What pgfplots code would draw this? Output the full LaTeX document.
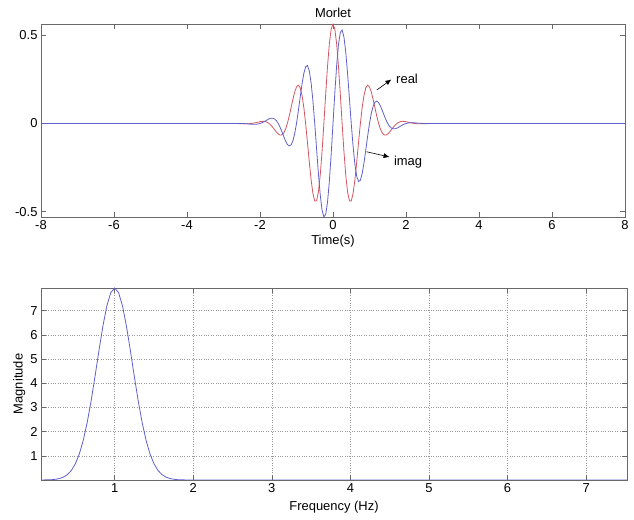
\documentclass[border=0pt]{standalone}
\usepackage{fontspec}
\setmainfont{Liberation Sans}
\usepackage{pgfplots}
\pgfplotsset{compat=1.18}
\usetikzlibrary{arrows.meta}

\definecolor{mred}{RGB}{210,85,95}
\definecolor{mblue}{RGB}{95,95,205}
\definecolor{axgray}{RGB}{105,105,105}

\pgfplotsset{
  matstyle/.style={
    scale only axis,
    font=\fontsize{13}{15}\selectfont,
    /pgf/number format/assume math mode=true,
    axis line style={axgray, line width=0.8pt},
    tick style={axgray, line width=0.6pt},
    tick align=inside,
    major tick length=5bp,
    xtick pos=both, ytick pos=both,
    every axis title/.style={at={(0.5,1)}, anchor=south, yshift=3bp},
  },
}

\begin{document}
\begin{tikzpicture}
\path[use as bounding box] (0,0) rectangle (634bp,520bp);

% top: Morlet wavelet, real and imaginary parts
\begin{axis}[
    matstyle,
    at={(41bp,303bp)}, anchor=south west,
    width=584bp, height=193bp,
    xmin=-8, xmax=8, ymin=-0.53, ymax=0.5642,
    xtick={-8,-6,...,8},
    ytick={-0.5,0,0.5},
    title={Morlet},
    xlabel={Time(s)},
    xlabel style={yshift=1bp},
    clip=true,
]
\addplot[mred, line width=0.8pt] coordinates {
(-8,0) (-3,0) (-2.70,-0.0001) (-2.60,-0.0005)
(-2.50,-0.0011) (-2.45,-0.0013) (-2.40,-0.0015) (-2.35,-0.0014) (-2.30,-0.0009)
(-2.25,0) (-2.20,0.0014) (-2.15,0.0032) (-2.10,0.0056) (-2.05,0.0080)
(-2.00,0.0103) (-1.95,0.0120) (-1.90,0.0124) (-1.85,0.0108) (-1.80,0.0068)
(-1.75,0) (-1.70,-0.0097) (-1.65,-0.0218) (-1.60,-0.0353) (-1.55,-0.0486)
(-1.50,-0.0595) (-1.45,-0.0655) (-1.40,-0.0643) (-1.35,-0.0536) (-1.30,-0.0322)
(-1.25,0) (-1.20,0.0413) (-1.15,0.0883) (-1.10,0.1361) (-1.05,0.1781)
(-1.00,0.2076) (-0.95,0.2176) (-0.90,0.2031) (-0.85,0.1610) (-0.80,0.0919)
(-0.75,0) (-0.70,-0.1068) (-0.65,-0.2174) (-0.60,-0.3184) (-0.55,-0.3965)
(-0.50,-0.4394) (-0.45,-0.4383) (-0.40,-0.3890) (-0.35,-0.2934) (-0.30,-0.1593)
(-0.25,0) (-0.20,0.1675) (-0.15,0.3242) (-0.10,0.4519) (-0.05,0.5353)
(0,0.5642)
(0.05,0.5353) (0.10,0.4519) (0.15,0.3242) (0.20,0.1675) (0.25,0)
(0.30,-0.1593) (0.35,-0.2934) (0.40,-0.3890) (0.45,-0.4383) (0.50,-0.4394)
(0.55,-0.3965) (0.60,-0.3184) (0.65,-0.2174) (0.70,-0.1068) (0.75,0)
(0.80,0.0919) (0.85,0.1610) (0.90,0.2031) (0.95,0.2176) (1.00,0.2076)
(1.05,0.1781) (1.10,0.1361) (1.15,0.0883) (1.20,0.0413) (1.25,0)
(1.30,-0.0322) (1.35,-0.0536) (1.40,-0.0643) (1.45,-0.0655) (1.50,-0.0595)
(1.55,-0.0486) (1.60,-0.0353) (1.65,-0.0218) (1.70,-0.0097) (1.75,0)
(1.80,0.0068) (1.85,0.0108) (1.90,0.0124) (1.95,0.0120) (2.00,0.0103)
(2.05,0.0080) (2.10,0.0056) (2.15,0.0032) (2.20,0.0014) (2.25,0)
(2.30,-0.0009) (2.35,-0.0014) (2.40,-0.0015) (2.45,-0.0013) (2.50,-0.0011)
(2.60,-0.0005) (2.70,-0.0001) (3,0) (8,0)
};
\addplot[mblue, line width=0.8pt] coordinates {
(-8,0) (-3,0) (-2.70,0.0004) (-2.60,0.0004)
(-2.50,0) (-2.45,-0.0004) (-2.40,-0.0011) (-2.35,-0.0019) (-2.30,-0.0027)
(-2.25,-0.0036) (-2.20,-0.0043) (-2.15,-0.0044) (-2.10,-0.0041) (-2.05,-0.0026)
(-2.00,0) (-1.95,0.0039) (-1.90,0.0090) (-1.85,0.0149) (-1.80,0.0210)
(-1.75,0.0264) (-1.70,0.0299) (-1.65,0.0300) (-1.60,0.0256) (-1.55,0.0158)
(-1.50,0) (-1.45,-0.0213) (-1.40,-0.0467) (-1.35,-0.0738) (-1.30,-0.0990)
(-1.25,-0.1183) (-1.20,-0.1272) (-1.15,-0.1216) (-1.10,-0.0989) (-1.05,-0.0579)
(-1.00,0) (-0.95,0.0707) (-0.90,0.1475) (-0.85,0.2216) (-0.80,0.2830)
(-0.75,0.3215) (-0.70,0.3287) (-0.65,0.2992) (-0.60,0.2314) (-0.55,0.1288)
(-0.50,0) (-0.45,-0.1424) (-0.40,-0.2826) (-0.35,-0.4039) (-0.30,-0.4904)
(-0.25,-0.5300) (-0.20,-0.5156) (-0.15,-0.4462) (-0.10,-0.3283) (-0.05,-0.1739)
(0,0)
(0.05,0.1739) (0.10,0.3283) (0.15,0.4462) (0.20,0.5156) (0.25,0.5300)
(0.30,0.4904) (0.35,0.4039) (0.40,0.2826) (0.45,0.1424) (0.50,0)
(0.55,-0.1288) (0.60,-0.2314) (0.65,-0.2992) (0.70,-0.3287) (0.75,-0.3215)
(0.80,-0.2830) (0.85,-0.2216) (0.90,-0.1475) (0.95,-0.0707) (1.00,0)
(1.05,0.0579) (1.10,0.0989) (1.15,0.1216) (1.20,0.1272) (1.25,0.1183)
(1.30,0.0990) (1.35,0.0738) (1.40,0.0467) (1.45,0.0213) (1.50,0)
(1.55,-0.0158) (1.60,-0.0256) (1.65,-0.0300) (1.70,-0.0299) (1.75,-0.0264)
(1.80,-0.0210) (1.85,-0.0149) (1.90,-0.0090) (1.95,-0.0039) (2.00,0)
(2.05,0.0026) (2.10,0.0041) (2.15,0.0044) (2.20,0.0043) (2.25,0.0036)
(2.30,0.0027) (2.35,0.0019) (2.40,0.0011) (2.45,0.0004) (2.50,0)
(2.60,-0.0004) (2.70,-0.0004) (3,0) (8,0)
};
\draw[-{Latex[length=6bp,width=5bp]}, line width=0.6pt] (axis cs:1.20,0.19) -- (axis cs:1.60,0.25);
\node[anchor=west, inner sep=1bp] at (axis cs:1.70,0.255) {real};
\draw[-{Latex[length=6bp,width=5bp]}, line width=0.6pt] (axis cs:0.92,-0.16) -- (axis cs:1.55,-0.19);
\node[anchor=west, inner sep=1bp] at (axis cs:1.64,-0.22) {imag};
\end{axis}

% bottom: magnitude spectrum
\begin{axis}[
    matstyle,
    at={(41bp,40bp)}, anchor=south west,
    width=586bp, height=192bp,
    xmin=0.0625, xmax=7.52, ymin=0, ymax=7.94,
    xtick={1,...,7},
    ytick={1,...,7},
    grid=major,
    major grid style={black!40, dotted, line width=0.6pt},
    xlabel={Frequency (Hz)},
    ylabel={Magnitude},
    xlabel style={yshift=-2bp},
    ylabel style={yshift=-2bp},
]
\addplot[mblue, line width=0.8pt] coordinates {
(0.0625,0.001) (0.10,0.003) (0.20,0.014) (0.25,0.031) (0.30,0.063)
(0.35,0.123) (0.40,0.227) (0.45,0.401) (0.50,0.673) (0.55,1.076)
(0.60,1.637) (0.65,2.370) (0.70,3.266) (0.75,4.285) (0.80,5.350)
(0.85,6.359) (0.90,7.194) (0.95,7.747) (1.00,7.940) (1.05,7.747)
(1.10,7.194) (1.15,6.359) (1.20,5.350) (1.25,4.285) (1.30,3.266)
(1.35,2.370) (1.40,1.637) (1.45,1.076) (1.50,0.673) (1.55,0.401)
(1.60,0.227) (1.65,0.123) (1.70,0.063) (1.75,0.031) (1.80,0.014)
(1.90,0.003) (2.00,0.000) (7.52,0)
};
\end{axis}
\end{tikzpicture}
\end{document}
